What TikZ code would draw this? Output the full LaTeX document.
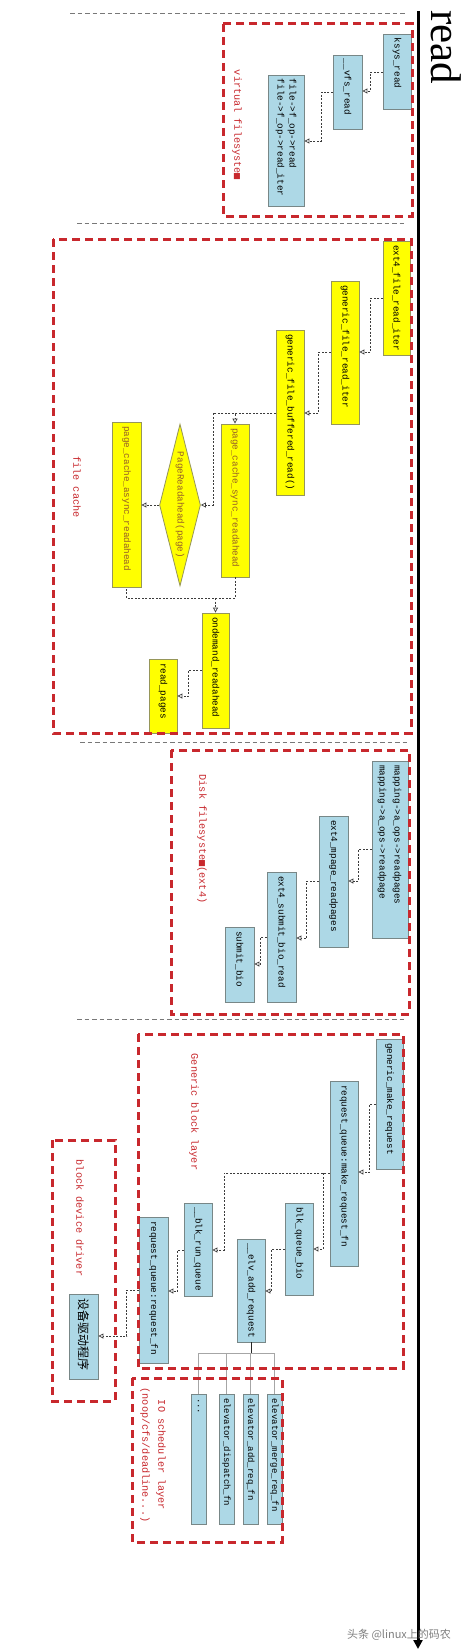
\documentclass[tikz,border=0pt]{standalone}
\usepackage{fontspec}
\setmonofont{Liberation Mono}
\newfontfamily\cjkfont{Noto Sans CJK SC}
\newfontfamily\bigserif{Liberation Serif}
\newfontfamily\symmono{DejaVu Sans Mono}
\usetikzlibrary{arrows.meta,shapes.geometric}
\definecolor{lblue}{RGB}{173,216,230}
\definecolor{bbord}{RGB}{120,135,135}
\definecolor{ylw}{RGB}{255,255,0}
\definecolor{ybord}{RGB}{150,150,90}
\definecolor{grpred}{RGB}{200,40,45}
\definecolor{conncol}{RGB}{60,60,60}
\definecolor{brtext}{RGB}{150,95,40}
\definecolor{sepgrey}{RGB}{120,120,120}
\newcommand\sq{{\symmono ■}}
\newcommand\fnbox[7]{%
  \pgfmathsetmacro\bw{#5-#3}\pgfmathsetmacro\bh{#6-#4}\pgfmathsetmacro\tl{#6-#4-8}%
  \node[#2, minimum width=\bw pt, minimum height=\bh pt] (#1) at ({(#3+#5)/2},{(#4+#6)/2})
    {\rotatebox{-90}{\makebox[\tl pt][l]{#7}}};}
\tikzset{
  bluebox/.style={draw=bbord, fill=lblue, line width=0.8pt, inner sep=0pt,
    font=\ttfamily\fontsize{9.3}{12}\selectfont},
  yelbox/.style={draw=ybord, fill=ylw, line width=0.8pt, inner sep=0pt,
    font=\ttfamily\fontsize{9.3}{12}\selectfont},
  elevbox/.style={bluebox, font=\ttfamily\fontsize{9}{11}\selectfont},
  conn/.style={draw=conncol, line width=0.7pt, dash pattern=on 2pt off 1.5pt,
    -{Triangle[open,length=5pt,width=5pt]}},
  connplain/.style={draw=conncol, line width=0.7pt, dash pattern=on 2pt off 1.5pt},
  grpbox/.style={draw=grpred, line width=3pt, dash pattern=on 8pt off 5pt},
  grplabel/.style={text=grpred, inner sep=0pt, rotate=-90, align=center,
    font=\ttfamily\fontsize{10.2}{16}\selectfont},
  sepline/.style={draw=sepgrey, line width=0.8pt, dash pattern=on 4.5pt off 3pt},
  treeline/.style={draw=gray!70, line width=0.9pt},
}
\begin{document}
\begin{tikzpicture}[x=1pt,y=-1pt]
\useasboundingbox[fill=white] (0,0) rectangle (465,1651);

% separators
\draw[sepline] (70,13) -- (407,13);
\draw[sepline] (77,223) -- (407,223);
\draw[sepline] (80,742) -- (408,742);
\draw[sepline] (77,1019) -- (407,1019);

% axis
\coordinate (axtop) at (418,11);
\coordinate (axbot) at (418,1649);
\draw[line width=3pt, -{Triangle[length=9pt,width=9pt]}] (axtop) -- (axbot);
\node[font=\bigserif\fontsize{43}{43}\selectfont, rotate=-90, inner sep=0pt] (title) at (446,47) {read};

% virtual filesystem
\fnbox{ksys}{bluebox}{383}{34}{411}{109}{ksys\_read}
\fnbox{vfs}{bluebox}{333}{55}{362}{129}{\_\_vfs\_read}
\fnbox{fop}{bluebox}{268}{75}{304}{206}{\begin{tabular}{@{}l@{}}file->f\_op->read\\file->f\_op->read\_iter\end{tabular}}

% file cache
\fnbox{ext4file}{yelbox}{383}{241}{410}{355}{ext4\_file\_read\_iter}
\fnbox{gfri}{yelbox}{331}{281}{359}{424}{generic\_file\_read\_iter}
\fnbox{gfbr}{yelbox}{276}{330}{304}{495}{generic\_file\_buffered\_read()}
\fnbox{sync}{yelbox, text=brtext}{221}{424}{249}{577}{page\_cache\_sync\_readahead}
\node[diamond, draw=ybord, fill=ylw, line width=0.8pt, inner sep=0pt, aspect=0.253,
  minimum width=41pt, minimum height=162pt, text=brtext,
  font=\ttfamily\fontsize{9.3}{12}\selectfont] (pr) at (180,505) {\rotatebox{-90}{PageReadahead(page)}};
\fnbox{async}{yelbox, text=brtext}{112}{422}{141}{587}{page\_cache\_async\_readahead}
\fnbox{ondemand}{yelbox}{202}{613}{229}{728}{ondemand\_readahead}
\fnbox{readpages}{yelbox}{149}{659}{177}{733}{read\_pages}

% disk filesystem
\fnbox{mapping}{bluebox}{372}{761}{408}{938}{\renewcommand\arraystretch{1.25}\begin{tabular}{@{}l@{}}mapping->a\_ops->readpages\\mapping->a\_ops->readpage\end{tabular}}
\fnbox{mpage}{bluebox}{319}{816}{348}{947}{ext4\_mpage\_readpages}
\fnbox{sbr}{bluebox}{267}{872}{296}{1002}{ext4\_submit\_bio\_read}
\fnbox{sb}{bluebox}{225}{927}{254}{1002}{submit\_bio}

% generic block layer
\fnbox{gmr}{bluebox}{376}{1039}{403}{1169}{generic\_make\_request}
\fnbox{mrf}{bluebox}{330}{1081}{358}{1266}{request\_queue:make\_request\_fn}
\fnbox{bqb}{bluebox}{285}{1203}{313}{1295}{blk\_queue\_bio}
\fnbox{brq}{bluebox}{184}{1203}{212}{1296}{\_\_blk\_run\_queue}
\fnbox{ear}{bluebox}{237}{1239}{265}{1342}{\_\_elv\_add\_request}
\fnbox{rfn}{bluebox}{139}{1217}{168}{1363}{request\_queue:request\_fn}

% block device driver
\fnbox{drv}{bluebox, font=\cjkfont\fontsize{12}{14}\selectfont}{69}{1294}{98}{1379}{设备驱动程序}

% IO scheduler
\fnbox{dots}{elevbox}{191}{1394}{206}{1524}{...}
\fnbox{edf}{elevbox}{219}{1394}{234}{1524}{elevator\_dispatch\_fn}
\fnbox{eaf}{elevbox}{243}{1394}{258}{1524}{elevator\_add\_req\_fn}
\fnbox{emf}{elevbox}{267}{1394}{282}{1524}{elevator\_merge\_req\_fn}

% connectors
\draw[conn] (ksys.west |- 0,72) -- ++(-12,0) |- (vfs.east |- 0,91);
\draw[conn] (vfs.west |- 0,92) -- ++(-11,0) |- (fop.east |- 0,141);
\draw[conn] (ext4file.west |- 0,298) -- ++(-12,0) |- (gfri.east |- 0,352);
\draw[conn] (gfri.west |- 0,352) -- ++(-12,0) |- (gfbr.east |- 0,413);
\draw[conn] (gfbr.west |- 0,413) -| (sync.north);
\draw[conn] (gfbr.west |- 0,413) -- (213,413) |- (pr.east);
\draw[conn] (pr.west) -- (async.east |- pr.west);
\draw[connplain] (sync.south) |- (async.south |- 0,598) -- (async.south);
\draw[conn] (ondemand.north |- 0,598) -- (ondemand.north);
\draw[conn] (ondemand.west |- 0,670) -- ++(-13,0) |- (readpages.east |- 0,696);
\draw[conn] (mapping.west |- 0,849) -- ++(-13,0) |- (mpage.east |- 0,881);
\draw[conn] (mpage.west |- 0,881) -- ++(-12,0) |- (sbr.east |- 0,938);
\draw[conn] (sbr.west |- 0,937) -- ++(-6,0) |- (sb.east |- 0,964);
\draw[conn] (gmr.west |- 0,1104) -- ++(-6,0) |- (mrf.east |- 0,1172);
\draw[conn] (mrf.west |- 0,1173) -- (323,1173) |- (bqb.east |- 0,1249);
\draw[conn] (mrf.west |- 0,1173) -- (224,1173) |- (brq.east |- 0,1250);
\draw[conn] (bqb.west |- 0,1249) -- ++(-13,0) |- (ear.east |- 0,1291);
\draw[conn] (brq.west |- 0,1250) -- ++(-6,0) |- (rfn.east |- 0,1291);
\draw[conn] (rfn.west |- 0,1290) -- ++(-12,0) |- (drv.east |- 0,1336);

% tree
\draw[treeline] (dots.north |- 0,1353) -- (emf.north |- 0,1353);
\foreach \n in {dots,edf,eaf,emf} \draw[treeline] (\n.north |- 0,1353) -- (\n.north);
\draw[draw=gray!30!black, line width=0.9pt] (ear.south) -- (ear.south |- 0,1353);

% group boxes
\draw[grpbox] (223,24) rectangle (412,216);
\draw[grpbox] (53,239) rectangle (411,733);
\draw[grpbox] (171,750) rectangle (409,1014);
\draw[grpbox] (138,1034) rectangle (403,1368);
\draw[grpbox] (52,1140) rectangle (115,1401);
\draw[grpbox] (132,1378) rectangle (282,1542);

% group labels
\node[grplabel] (lvfs) at (237,125) {virtual filesyste\sq};
\node[grplabel] (lfc) at (77,487) {file cache};
\node[grplabel] (ldisk) at (202,839) {Disk filesyste\sq(ext4)};
\node[grplabel] (lgbl) at (194,1112) {Generic block layer};
\node[grplabel] (lbdd) at (80,1218) {block device driver};
\node[grplabel] (lio) at (153,1455) {IO scheduler layer\\(noop/cfs/deadline...)};

% watermark
\node[font=\cjkfont\fontsize{11}{13}\selectfont, text=gray, inner sep=0pt] (wm) at (399,1635) {头条 @linux上的码农};
\end{tikzpicture}
\end{document}
